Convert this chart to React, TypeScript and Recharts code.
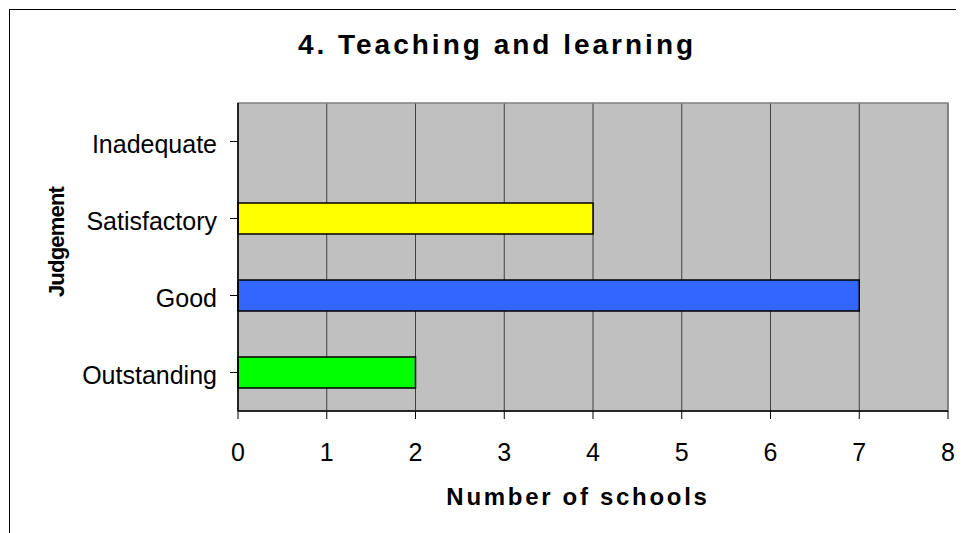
import { Bar, BarChart, CartesianGrid, Cell, ReferenceArea, XAxis, YAxis } from "recharts";

// Ofsted-style judgement counts, top to bottom as drawn
const categories = ["Inadequate", "Satisfactory", "Good", "Outstanding"];
const schools = [0, 4, 7, 2];
const xTicks = [0, 1, 2, 3, 4, 5, 6, 7, 8];

const barColors = ["#FF0000", "#FFFF00", "#3366FF", "#00FF00"];
const FONT = '"Liberation Sans", Arial, sans-serif';
const W = 956;
const H = 525;

const data = categories.map((name, i) => ({ name, value: schools[i] }));

export default function App() {
  return (
    <div style={{ position: "relative", width: W, height: H, overflow: "hidden", background: "#fff" }}>
      <div
        style={{
          position: "absolute",
          left: 1,
          top: 1,
          width: W + 20,
          height: H + 20,
          borderLeft: "1px solid #000",
          borderTop: "1px solid #000",
        }}
      />
      <div style={{ position: "absolute", left: 0, top: 0 }}>
        <BarChart
          width={W}
          height={H}
          data={data}
          layout="vertical"
          margin={{ top: 95, right: 16, bottom: 92, left: 0 }}
          barCategoryGap={0}
        >
          <CartesianGrid horizontal={false} stroke="#404040" fill="#C0C0C0" strokeOpacity={1} />
          <ReferenceArea x1={0} x2={8} fill="none" stroke="#808080" strokeWidth={1.5} ifOverflow="visible" />
          <XAxis
            type="number"
            domain={[0, 8]}
            ticks={xTicks}
            interval={0}
            tickSize={8}
            tickMargin={24}
            axisLine={{ stroke: "#000", strokeWidth: 1.5 }}
            tickLine={{ stroke: "#000" }}
            tick={{ fontSize: 25, fill: "#000", fontFamily: FONT }}
            height={30}
          />
          <YAxis
            type="category"
            dataKey="name"
            width={230}
            tickSize={8}
            tickMargin={13}
            axisLine={{ stroke: "#000", strokeWidth: 1.5 }}
            tickLine={{ stroke: "#000" }}
            tick={{ fontSize: 25, fill: "#000", fontFamily: FONT, dy: 3 }}
            interval={0}
          />
          <Bar dataKey="value" barSize={31} stroke="#000" strokeWidth={1.5} isAnimationActive={false}>
            {data.map((d, i) => (
              <Cell key={d.name} fill={barColors[i]} />
            ))}
          </Bar>
        </BarChart>
      </div>
      <svg
        width={W}
        height={H}
        style={{ position: "absolute", left: 0, top: 0, pointerEvents: "none" }}
        fontFamily={FONT}
        fontWeight="bold"
        fill="#000"
      >
        <text x={489} y={46} textAnchor="middle" fontSize={28} letterSpacing={3}>
          4. Teaching and learning
        </text>
        <text x={570} y={497} textAnchor="middle" fontSize={24} letterSpacing={2.7}>
          Number of schools
        </text>
        <text x={56} y={234} textAnchor="middle" fontSize={22} letterSpacing={-0.8} transform="rotate(-90, 56, 234)">
          Judgement
        </text>
      </svg>
    </div>
  );
}
